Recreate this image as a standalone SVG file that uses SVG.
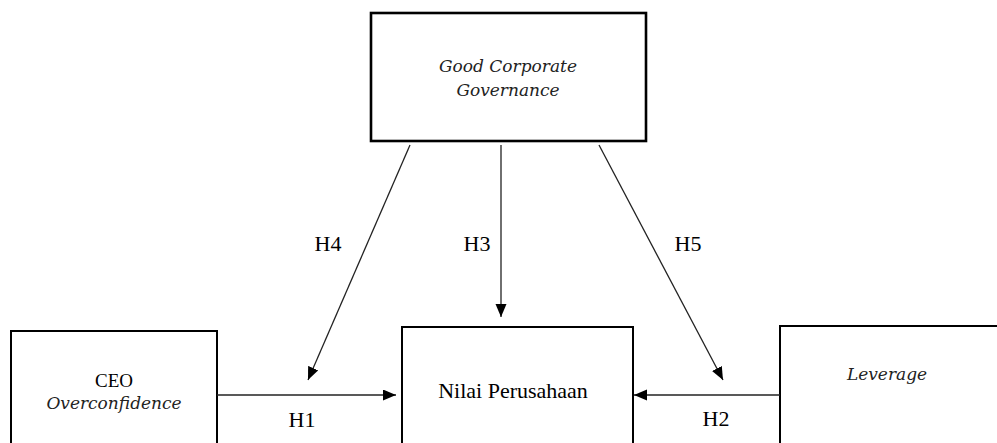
<svg xmlns="http://www.w3.org/2000/svg" width="997" height="443" viewBox="0 0 997 443">
  <style>
    .box { fill: #ffffff; stroke: #000000; stroke-width: 2; }
    .top { stroke-width: 2.6; }
    .conn { stroke: #222222; stroke-width: 1.3; fill: none; }
    .ital { font-style: italic; font-size: 17px; fill: #222222; text-anchor: middle; }
    .reg { fill: #000000; text-anchor: middle; }
    .lab { font-size: 22px; fill: #000000; text-anchor: middle; }
  </style>
  <defs>
    <marker id="arr" markerUnits="userSpaceOnUse" markerWidth="14" markerHeight="12" refX="13" refY="5.5" orient="auto">
      <path d="M0,0 L13,5.5 L0,11 Z" fill="#000000"/>
    </marker>
  </defs>
  <rect width="997" height="443" fill="#ffffff"/>

  <g id="gcg">
    <rect class="box top" x="371" y="13" width="275" height="128"/>
    <text class="ital" font-family="DejaVu Serif, Liberation Serif, serif" x="508" y="72">Good Corporate</text>
    <text class="ital" font-family="DejaVu Serif, Liberation Serif, serif" x="508" y="96">Governance</text>
  </g>

  <g id="ceo">
    <rect class="box" x="11" y="331" width="206" height="130"/>
    <text class="reg" font-family="Liberation Serif, Times New Roman, serif" x="114" y="387" font-size="19">CEO</text>
    <text class="ital" font-family="DejaVu Serif, Liberation Serif, serif" x="114" y="409">Overconfidence</text>
  </g>

  <g id="nilai">
    <rect class="box" x="402" y="327" width="231" height="130"/>
    <text class="reg" font-family="Liberation Serif, Times New Roman, serif" x="513" y="398" font-size="22">Nilai Perusahaan</text>
  </g>

  <g id="leverage">
    <rect class="box" x="780" y="326" width="240" height="130"/>
    <text class="ital" font-family="DejaVu Serif, Liberation Serif, serif" x="887" y="380">Leverage</text>
  </g>

  <g id="connectors">
    <line class="conn" x1="410" y1="145" x2="308" y2="380" marker-end="url(#arr)"/>
    <line class="conn" x1="501" y1="145" x2="501" y2="317" marker-end="url(#arr)"/>
    <line class="conn" x1="599" y1="145" x2="723" y2="380" marker-end="url(#arr)"/>
    <line class="conn" x1="217" y1="395" x2="396" y2="395" marker-end="url(#arr)"/>
    <line class="conn" x1="780" y1="395" x2="634" y2="395" marker-end="url(#arr)"/>
    <g font-family="Liberation Serif, Times New Roman, serif">
      <text class="lab" x="328" y="251">H4</text>
      <text class="lab" x="477" y="251">H3</text>
      <text class="lab" x="688" y="251">H5</text>
      <text class="lab" x="302" y="427">H1</text>
      <text class="lab" x="716" y="426">H2</text>
    </g>
  </g>
</svg>
